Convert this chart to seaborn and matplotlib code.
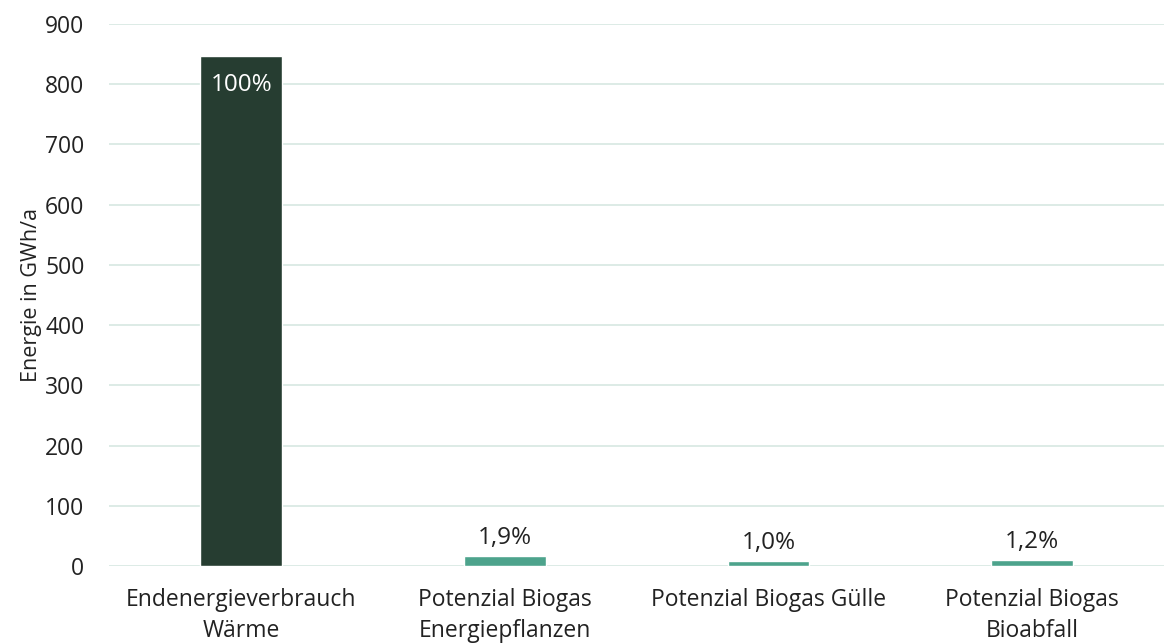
import matplotlib
matplotlib.use("Agg")
import matplotlib.pyplot as plt
import pandas as pd
import seaborn as sns

CATEGORIES = [
    "Endenergieverbrauch\nWärme",
    "Potenzial Biogas\nEnergiepflanzen",
    "Potenzial Biogas Gülle",
    "Potenzial Biogas\nBioabfall",
]
VALUES = [846, 16, 8.5, 10]
LABELS = ["100%", "1,9%", "1,0%", "1,2%"]
COLORS = ["#263d31", "#4da38c", "#4da38c", "#4da38c"]

sns.set_theme(style="white")
plt.rcParams["font.family"] = ["Open Sans", "DejaVu Sans"]

df = pd.DataFrame({"cat": CATEGORIES, "val": VALUES})

fig = plt.figure(figsize=(11.64, 6.44), dpi=100)
ax = fig.add_axes([0.094, 0.121, 0.906, 0.842])
sns.barplot(data=df, x="cat", y="val", hue="cat", palette=COLORS,
            legend=False, width=0.31, saturation=1, ax=ax)

ax.set_ylim(0, 900)
ax.set_yticks(range(0, 901, 100))
ax.yaxis.grid(True, color="#d7e8e2", linewidth=1.2)
ax.set_axisbelow(True)
for s in ax.spines.values():
    s.set_visible(False)
ax.tick_params(axis="both", length=0, labelsize=16.5, colors="#222222")
ax.tick_params(axis="y", pad=18)
ax.tick_params(axis="x", pad=16)
for t in ax.get_xticklabels():
    t.set_linespacing(1.38)
ax.set_xlabel("")
ax.set_ylabel("Energie in GWh/a", fontsize=15.5, color="#222222", labelpad=2)

for i, (v, lab) in enumerate(zip(VALUES, LABELS)):
    if i == 0:
        ax.text(i, v - 27, lab, ha="center", va="top", color="white", fontsize=17.5)
    else:
        ax.text(i, v + 20, lab, ha="center", va="baseline", color="#222222", fontsize=17.5)

fig.savefig("out.png", dpi=100)
